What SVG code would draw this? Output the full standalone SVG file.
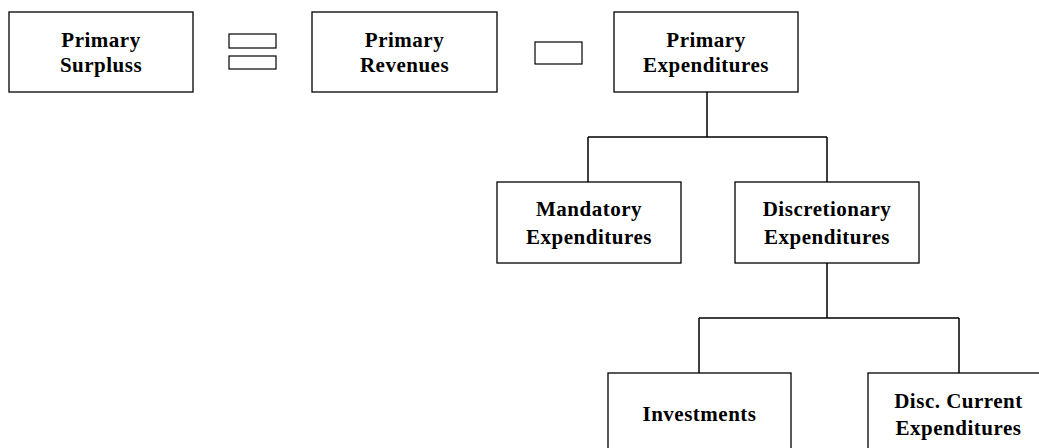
<svg xmlns="http://www.w3.org/2000/svg" width="1039" height="448" viewBox="0 0 1039 448">
<style>
.box{fill:#fff;stroke:#000;stroke-width:1.3}
.op{fill:#fff;stroke:#000;stroke-width:1.2}
.ln{fill:none;stroke:#000;stroke-width:1.5}
text{font-family:"Liberation Serif","Times New Roman",serif;font-weight:bold;font-size:21px;letter-spacing:0.5px;text-anchor:middle;fill:#000}
</style>
<rect width="1039" height="448" fill="#fff"/>
<g id="connectors">
<path class="ln" d="M707,92 V137 M588,137 H827 M588,137 V182 M827,137 V182"/>
<path class="ln" d="M827,263 V318 M699,318 H959 M699,318 V373 M959,318 V373"/>
</g>
<g id="primary-surplus">
<rect class="box" x="9" y="12" width="184" height="80"/>
<text x="101" y="47">Primary</text>
<text x="101" y="72">Surpluss</text>
</g>
<g id="equals-sign">
<rect class="op" x="229" y="34" width="47" height="14"/>
<rect class="op" x="229" y="56" width="47" height="13"/>
</g>
<g id="primary-revenues">
<rect class="box" x="312" y="12" width="185" height="80"/>
<text x="404.5" y="47">Primary</text>
<text x="404.5" y="72">Revenues</text>
</g>
<g id="minus-sign">
<rect class="op" x="535" y="42" width="47" height="22"/>
</g>
<g id="primary-expenditures">
<rect class="box" x="614" y="12" width="184" height="80"/>
<text x="706" y="47">Primary</text>
<text x="706" y="72">Expenditures</text>
</g>
<g id="mandatory-expenditures">
<rect class="box" x="497" y="182" width="184" height="81"/>
<text x="589" y="216">Mandatory</text>
<text x="589" y="244">Expenditures</text>
</g>
<g id="discretionary-expenditures">
<rect class="box" x="735" y="182" width="184" height="81"/>
<text x="827" y="216">Discretionary</text>
<text x="827" y="244">Expenditures</text>
</g>
<g id="investments">
<rect class="box" x="608" y="373" width="183" height="85"/>
<text x="699.5" y="421">Investments</text>
</g>
<g id="disc-current-expenditures">
<rect class="box" x="868" y="373" width="182" height="85"/>
<text x="958.5" y="408">Disc. Current</text>
<text x="958.5" y="435">Expenditures</text>
</g>
</svg>
